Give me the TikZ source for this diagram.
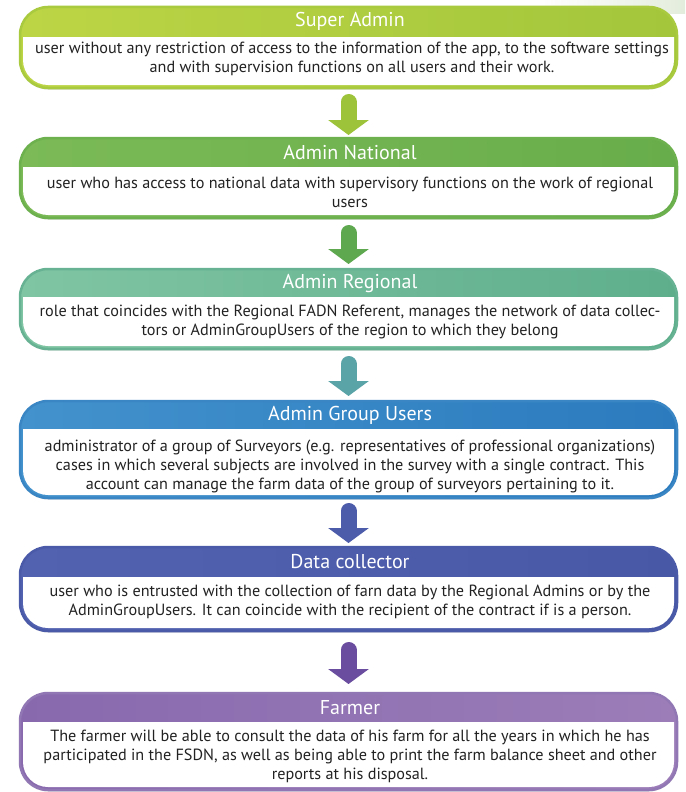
\documentclass[tikz,border=0pt]{standalone}
\usepackage{fontspec}
\setmainfont{PT Sans}
\usetikzlibrary{arrows.meta,shadows}
\definecolor{saL}{HTML}{BCD545}\definecolor{saR}{HTML}{A3C63B}\definecolor{saB}{HTML}{A9CA3E}\definecolor{saA}{HTML}{9CC33A}
\definecolor{anL}{HTML}{7BBA56}\definecolor{anR}{HTML}{68AD4B}\definecolor{anB}{HTML}{6DB04E}\definecolor{anA}{HTML}{5EA950}
\definecolor{arL}{HTML}{80C5A3}\definecolor{arR}{HTML}{5EAE8C}\definecolor{arB}{HTML}{66B293}\definecolor{arA}{HTML}{5AA3A6}
\definecolor{agL}{HTML}{4392CD}\definecolor{agR}{HTML}{2B7BBE}\definecolor{agB}{HTML}{3A86C4}\definecolor{agA}{HTML}{4C5BAA}
\definecolor{dcL}{HTML}{5362B0}\definecolor{dcR}{HTML}{4858A7}\definecolor{dcB}{HTML}{4A5AA8}\definecolor{dcA}{HTML}{6A4D9F}
\definecolor{fmL}{HTML}{8869AE}\definecolor{fmR}{HTML}{9C7DB8}\definecolor{fmB}{HTML}{9177B3}
\definecolor{bodyink}{HTML}{222222}
\definecolor{palegreen}{HTML}{E3EDDC}
\newcommand{\rolecard}[7]{%
  \pgfmathsetmacro{\cardcy}{-(#2+#4)/2}%
  \pgfmathsetmacro{\cardch}{#4-#2}%
  \node[card, left color=#5, right color=#6, draw=#7, minimum height=\cardch pt] (#1) at (348.5,\cardcy) {};
  \begin{scope}
    \clip (0,-#3) rectangle (685,-800);
    \fill[white, rounded corners=25pt] ([xshift=3pt,yshift=3pt]#1.south west) rectangle ([xshift=-3pt,yshift=-3pt]#1.north east);
  \end{scope}
}
\begin{document}
\begin{tikzpicture}[x=1pt,y=1pt,
  card/.style={rounded corners=28pt, minimum width=657pt, line width=2.5pt, inner sep=0pt, outer sep=0pt,
    drop shadow={shadow xshift=0pt, shadow yshift=-1.5pt, opacity=0.25, fill=black!60}},
  titletext/.style={text=white, font=\fontsize{20}{22}\selectfont, inner sep=0pt},
  bodytext/.style={text=bodyink, font=\fontsize{16.2}{19}\selectfont, align=center, inner sep=0pt},
  flow/.style={line width=16pt, line cap=round, -{Triangle[width=40pt,length=15pt]}}
]
\useasboundingbox (0,0) rectangle (685,-792);
\fill[white] (0,0) rectangle (685,-792);
\shade[left color=white, right color=palegreen] (540,0) rectangle (685,-14);

\rolecard{c1}{7}{38}{88}{saL}{saR}{saB}
\rolecard{c2}{138}{167}{218}{anL}{anR}{anB}
\rolecard{c3}{269}{297}{349}{arL}{arR}{arB}
\rolecard{c4}{401}{429}{498}{agL}{agR}{agB}
\rolecard{c5}{547}{577}{631}{dcL}{dcR}{dcB}
\rolecard{c6}{693}{722}{790}{fmL}{fmR}{fmB}

\node[titletext] (t1) at (350,-21) {Super Admin};
\node[titletext] (t2) at (350,-153) {Admin National};
\node[titletext] (t3) at (350,-284) {Admin Regional};
\node[titletext] (t4) at (350,-415) {Admin Group Users};
\node[titletext] (t5) at (350,-562) {Data collector};
\node[titletext] (t6) at (350,-708) {Farmer};

\node[bodytext] (b1) at (352,-59) {user without any restriction of access to the information of the app, to the software settings\\and with supervision functions on all users and their work.};
\node[bodytext] (b2) at (350,-192) {user who has access to national data with supervisory functions on the work of regional\\users};
\node[bodytext] (b3) at (350,-322) {role that coincides with the Regional FADN Referent, manages the network of data collec-\\tors or AdminGroupUsers of the region to which they belong};
\node[bodytext] (b4) at (350,-466) {administrator of a group of Surveyors (e.g. representatives of professional organizations)\\cases in which several subjects are involved in the survey with a single contract. This\\account can manage the farm data of the group of surveyors pertaining to it.};
\node[bodytext] (b5) at (350,-601.5) {user who is entrusted with the collection of farn data by the Regional Admins or by the\\AdminGroupUsers. It can coincide with the recipient of the contract if is a person.};
\node[bodytext] (b6) at (350,-756) {The farmer will be able to consult the data of his farm for all the years in which he has\\participated in the FSDN, as well as being able to print the farm balance sheet and other\\reports at his disposal.};

\draw[flow, saA, shorten <=14pt, shorten >=3pt] (c1.south) -- (c2.north);
\draw[flow, anA, shorten <=15pt, shorten >=5pt] (c2.south) -- (c3.north);
\draw[flow, arA, shorten <=15pt, shorten >=5pt] (c3.south) -- (c4.north);
\draw[flow, agA, shorten <=13pt, shorten >=4pt] (c4.south) -- (c5.north);
\draw[flow, dcA, shorten <=19pt, shorten >=9pt] (c5.south) -- (c6.north);
\end{tikzpicture}
\end{document}
